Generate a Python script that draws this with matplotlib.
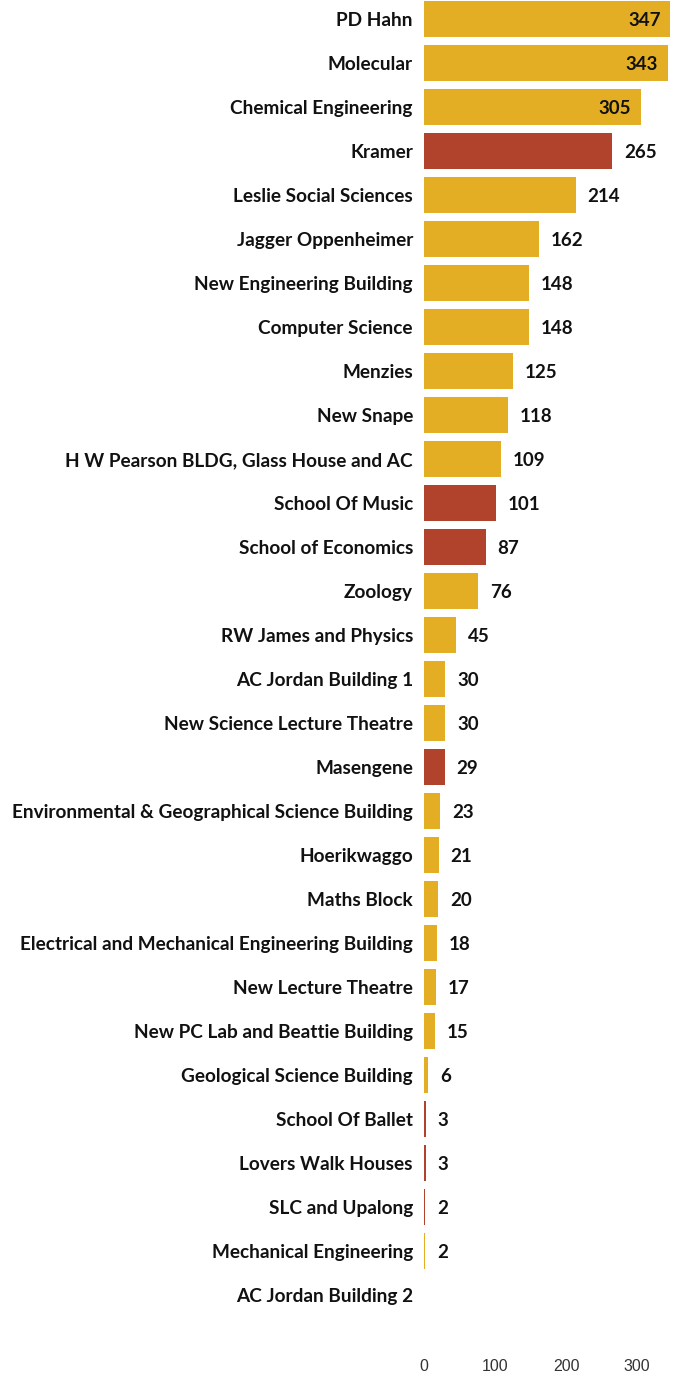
import numpy as np
import matplotlib.pyplot as plt

buildings = ['PD Hahn', 'Molecular', 'Chemical Engineering', 'Kramer', 'Leslie Social Sciences',
             'Jagger Oppenheimer', 'New Engineering Building', 'Computer Science', 'Menzies',
             'New Snape', 'H W Pearson BLDG, Glass House and AC', 'School Of Music',
             'School of Economics', 'Zoology', 'RW James and Physics', 'AC Jordan Building 1',
             'New Science Lecture Theatre', 'Masengene', 'Environmental & Geographical Science Building',
             'Hoerikwaggo', 'Maths Block', 'Electrical and Mechanical Engineering Building',
             'New Lecture Theatre', 'New PC Lab and Beattie Building', 'Geological Science Building',
             'School Of Ballet', 'Lovers Walk Houses', 'SLC and Upalong', 'Mechanical Engineering',
             'AC Jordan Building 2']
counts = [347, 343, 305, 265, 214, 162, 148, 148, 125, 118, 109, 101, 87, 76, 45, 30, 30, 29,
          23, 21, 20, 18, 17, 15, 6, 3, 3, 2, 2, 0]
highlight = ['Kramer', 'School Of Music', 'School of Economics', 'Masengene',
             'School Of Ballet', 'Lovers Walk Houses', 'SLC and Upalong']
ticks = [0, 100, 200, 300]

gold = '#e3ae24'
red = '#b1432d'
colors = [red if b in highlight else gold for b in buildings]

W, H = 678, 1375
fig = plt.figure(figsize=(W / 100, H / 100), dpi=100)
x0 = 424
ax = fig.add_axes([x0 / W, 1 - 1340 / H, 1 - x0 / W, 1340 / H])

y = np.arange(len(buildings))
ax.barh(y, counts, height=0.8, color=colors)
ax.set_ylim((1340 - 19) / 44, -19 / 44)
ax.set_xlim(0, (W - x0) / 0.71)

ax.set_yticks(y)
ax.set_yticklabels(buildings, family='Lato', fontweight='bold', fontsize=13.7, color='#111111')
ax.set_xticks(ticks)
ax.set_xticklabels([str(t) for t in ticks], family='Liberation Sans', fontsize=11.5, color='#333333')
ax.tick_params(axis='y', length=0, pad=8)
ax.tick_params(axis='x', length=0, pad=14)
for s in ax.spines.values():
    s.set_visible(False)

for yi, v in zip(y, counts):
    if v == 0:
        continue
    if v > 300:
        ax.annotate(str(v), (v, yi), xytext=(-7, 0), textcoords='offset points',
                    ha='right', va='center_baseline', family='Lato', fontweight='bold',
                    fontsize=13.5, color='#111111')
    else:
        ax.annotate(str(v), (v, yi), xytext=(8.5, 0), textcoords='offset points',
                    ha='left', va='center_baseline', family='Lato', fontweight='bold',
                    fontsize=13.5, color='#111111')

fig.savefig('out.png', dpi=100)
